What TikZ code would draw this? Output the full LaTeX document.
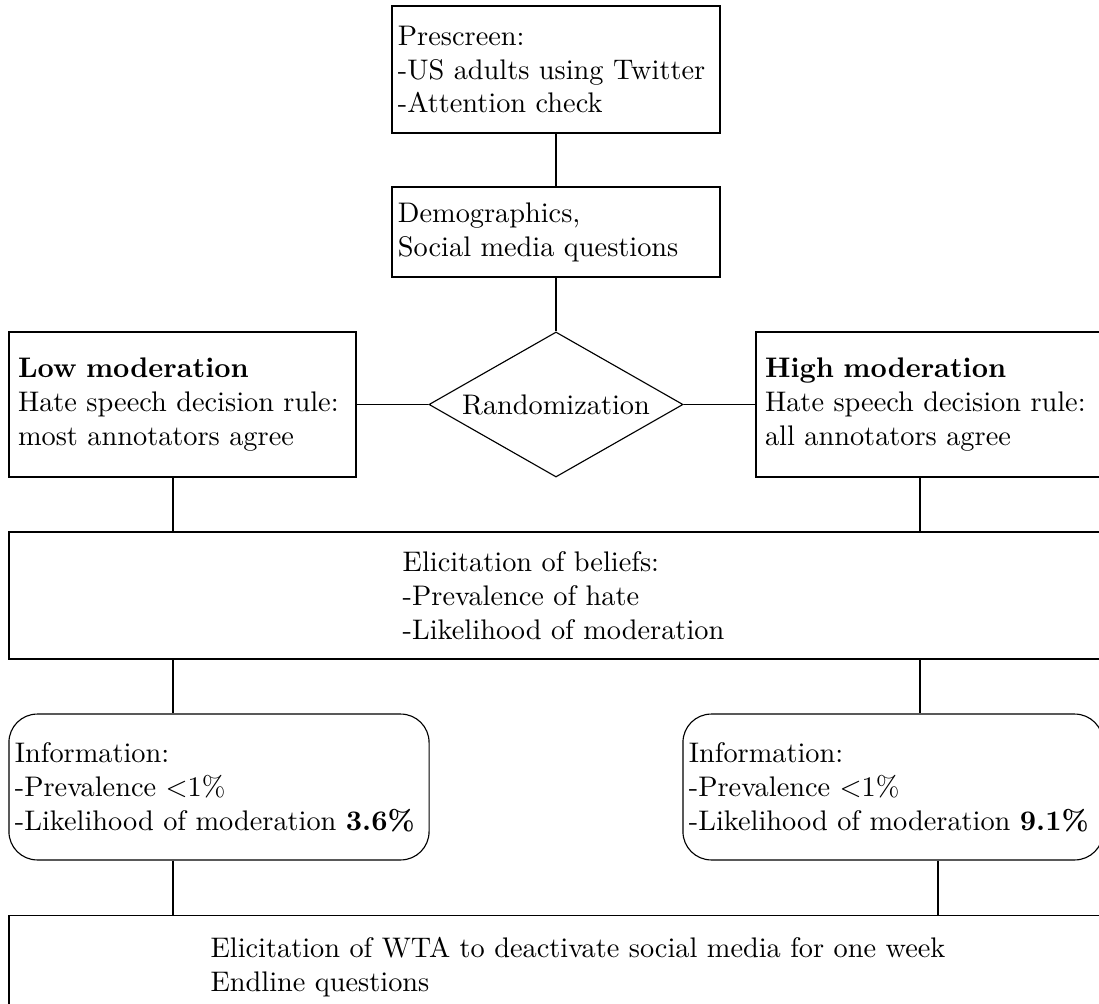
\documentclass[tikz,border=0pt]{standalone}
\usetikzlibrary{shapes.geometric,positioning}

\begin{document}
\begin{tikzpicture}[x=0.353pt, y=-0.353pt,
	box/.style={draw, align=left, inner sep=2pt},
	stepbox/.style={box, inner xsep=2.1pt, text width=111.6pt, minimum height=#1},
	armbox/.style={box, inner xsep=3.2pt, text width=116.1pt, minimum height=51.2pt},
	infobox/.style={box, inner xsep=2.1pt, text width=144.1pt, rounded corners=10pt, minimum height=51.5pt}]

\clip (0,0) rectangle (1099,1004);

\node (prescreen) at (556, 69.5) [stepbox=44.8pt] {Prescreen:\\-US adults using Twitter\\-Attention check};

\node (demog) at (556, 232) [stepbox=31.8pt] {Demographics,\\Social media questions};

\node (rand) at (556, 404.5) [draw, diamond, aspect=1.75, inner sep=0pt, minimum width=89.7pt, minimum height=51.2pt] {Randomization};

\node (lowmod) at (182.5, 404.5) [armbox] {\textbf{Low moderation}\\Hate speech decision rule:\\most annotators agree};
\node (highmod) at (929.5, 404.5) [armbox] {\textbf{High moderation}\\Hate speech decision rule:\\all annotators agree};

\node (beliefs) at (563.5, 595.5) [box, minimum width=391.5pt, minimum height=44.8pt] {Elicitation of beliefs:\\-Prevalence of hate\\-Likelihood of moderation};

\node (infolow) at (219, 787) [infobox] {Information:\\-Prevalence $<$1\%\\-Likelihood of moderation \textbf{3.6\%}};
\node (infohigh) at (893, 787) [infobox] {Information:\\-Prevalence $<$1\%\\-Likelihood of moderation \textbf{9.1\%}};

\node (wta) at (578, 967) [box, minimum width=401.7pt, minimum height=36.4pt] {Elicitation of WTA to deactivate social media for one week\\Endline questions};

% columns of the vertical links
\coordinate (colL) at (173, 0);
\coordinate (colR) at (920, 0);
\coordinate (colRR) at (938, 0);

\draw (prescreen) -- (demog);
\draw (demog) -- (rand);
\draw (lowmod) -- (rand);
\draw (rand) -- (highmod);

\draw (lowmod.south -| colL) -- (beliefs.north -| colL);
\draw (highmod.south -| colR) -- (beliefs.north -| colR);
\draw (beliefs.south -| colL) -- (infolow.north -| colL);
\draw (beliefs.south -| colR) -- (infohigh.north -| colR);
\draw (infolow.south -| colL) -- (wta.north -| colL);
\draw (infohigh.south -| colRR) -- (wta.north -| colRR);

\end{tikzpicture}
\end{document}
